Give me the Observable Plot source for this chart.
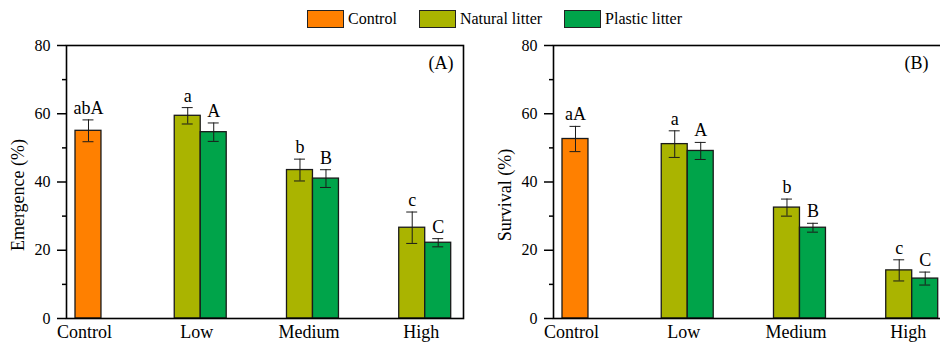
<!DOCTYPE html>
<html><head><meta charset="utf-8">
<script src="https://cdn.jsdelivr.net/npm/d3@7"></script>
<script src="https://cdn.jsdelivr.net/npm/@observablehq/plot@0.6"></script>
<style>
html,body{margin:0;padding:0;background:#fff;overflow:hidden;width:940px;height:342px}
#wrap{position:relative;width:940px;height:342px;overflow:hidden;font-family:"Liberation Serif","Times New Roman",serif;color:#000}
#pa,#pb{position:absolute;top:0;width:487px;height:342px}
#pa{left:0}
#pb{left:487px}
#wrap svg{max-width:none !important;width:487px;height:342px}
#wrap svg, #wrap svg text{font-family:"Liberation Serif","Times New Roman",serif !important}
#legend{position:absolute;top:10px;left:307px;display:flex;align-items:center;font-size:16px;z-index:2}
.item{display:flex;align-items:center;margin-right:22px}
.sw{width:35px;height:16px;border:1.3px solid #222;margin-right:4px}
</style></head>
<body><div id="wrap"><div id="legend"></div><div id="pa"></div><div id="pb"></div></div>
<script>
// ---- data ----
const categories = ["Control","Low","Medium","High"];
const series = ["Control","Natural litter","Plastic litter"];
const seriesColors = ["#FF8000","#AAB400","#00A44A"];
const rowCategory = ["Control","Low","Low","Medium","Medium","High","High"];
const rowSeries = ["Control","Natural litter","Plastic litter","Natural litter","Plastic litter","Natural litter","Plastic litter"];
const emergenceMean = [55.0, 59.4, 54.6, 43.5, 41.0, 26.6, 22.2];
const emergenceErr  = [3.2, 2.4, 2.7, 3.2, 2.6, 4.6, 1.2];
const emergenceLetters = ["abA","a","A","b","B","c","C"];
const survivalMean = [52.6, 51.1, 49.1, 32.5, 26.6, 14.1, 11.7];
const survivalErr  = [3.7, 3.9, 2.5, 2.5, 1.3, 3.1, 1.9];
const survivalLetters = ["aA","a","A","b","B","c","C"];
const yTicks = [0,20,40,60,80];
const yMinorTicks = [10,30,50,70];

// legend
const leg = document.getElementById("legend");
series.forEach((s,i)=>{
  const it=document.createElement("div");it.className="item";
  const sw=document.createElement("div");sw.className="sw";sw.style.background=seriesColors[i];
  const t=document.createElement("span");t.textContent=s;
  it.appendChild(sw);it.appendChild(t);leg.appendChild(it);
});

// bar layout within a category band (band width = two bars)
const layout = {
  "Control":        {insetLeft: 13, insetRight: 13, dx: 0},
  "Natural litter": {insetLeft: 0,  insetRight: 26, dx: -13},
  "Plastic litter": {insetLeft: 26, insetRight: 0,  dx: 13}
};

function panel(mean, err, letters, yLabel, tag, tagDx){
  const rows = rowCategory.map((c,i)=>({category:c, series:rowSeries[i], mean:mean[i], err:err[i], letter:letters[i]}));
  const marks = [];
  for (const s of series){
    const data = rows.filter(d=>d.series===s);
    const L = layout[s];
    marks.push(Plot.barY(data,{x:"category", y:"mean", fill:"series", stroke:"#1a1a1a", strokeWidth:1.3, insetLeft:L.insetLeft, insetRight:L.insetRight}));
    marks.push(Plot.ruleX(data,{x:"category", y1:d=>d.mean-d.err, y2:d=>d.mean+d.err, dx:L.dx, stroke:"#1a1a1a", strokeWidth:1}));
    marks.push(Plot.tickY(data,{x:"category", y:d=>d.mean-d.err, dx:L.dx, insetLeft:20.5, insetRight:20.5, stroke:"#1a1a1a", strokeWidth:1}));
    marks.push(Plot.tickY(data,{x:"category", y:d=>d.mean+d.err, dx:L.dx, insetLeft:20.5, insetRight:20.5, stroke:"#1a1a1a", strokeWidth:1}));
    marks.push(Plot.text(data,{x:"category", y:d=>d.mean+d.err, text:"letter", dx:L.dx, dy:-6, lineAnchor:"bottom", fontSize:18, fill:"#000"}));
  }
  marks.push(Plot.axisY({ticks:yTicks, tickSize:9, tickPadding:7, fontSize:16, label:null, stroke:"#000", strokeWidth:1.5}));
  marks.push(Plot.axisY({ticks:yMinorTicks, tickSize:4, tickFormat:()=>"", label:null, stroke:"#000", strokeWidth:1.5}));
  marks.push(Plot.axisX({tickSize:0, tickPadding:7, dx:-4, fontSize:18, label:null}));
  marks.push(Plot.frame({stroke:"#000", strokeWidth:1.6}));
  marks.push(Plot.text([yLabel],{frameAnchor:"left", rotate:-90, dx:-48, dy:13, fontSize:18, textAnchor:"middle", fill:"#000"}));
  marks.push(Plot.text([tag],{frameAnchor:"top-right", dx:tagDx, dy:11, fontSize:18, fill:"#000"}));
  return Plot.plot({
    width:487, height:342,
    marginLeft:66, marginRight:24, marginTop:45, marginBottom:24,
    style:{fontFamily:'"Liberation Serif","Times New Roman",serif', fontSize:"16px", color:"#000", background:"transparent", overflow:"visible"},
    x:{type:"band", domain:categories, range:[62,450.7], paddingInner:0.537, paddingOuter:0, align:0, round:false},
    y:{domain:[0,80]},
    color:{domain:series, range:seriesColors},
    marks
  });
}
document.getElementById("pa").appendChild(panel(emergenceMean, emergenceErr, emergenceLetters, "Emergence (%)", "(A)", -10));
document.getElementById("pb").appendChild(panel(survivalMean, survivalErr, survivalLetters, "Survival (%)", "(B)", -22));
</script></body></html>
